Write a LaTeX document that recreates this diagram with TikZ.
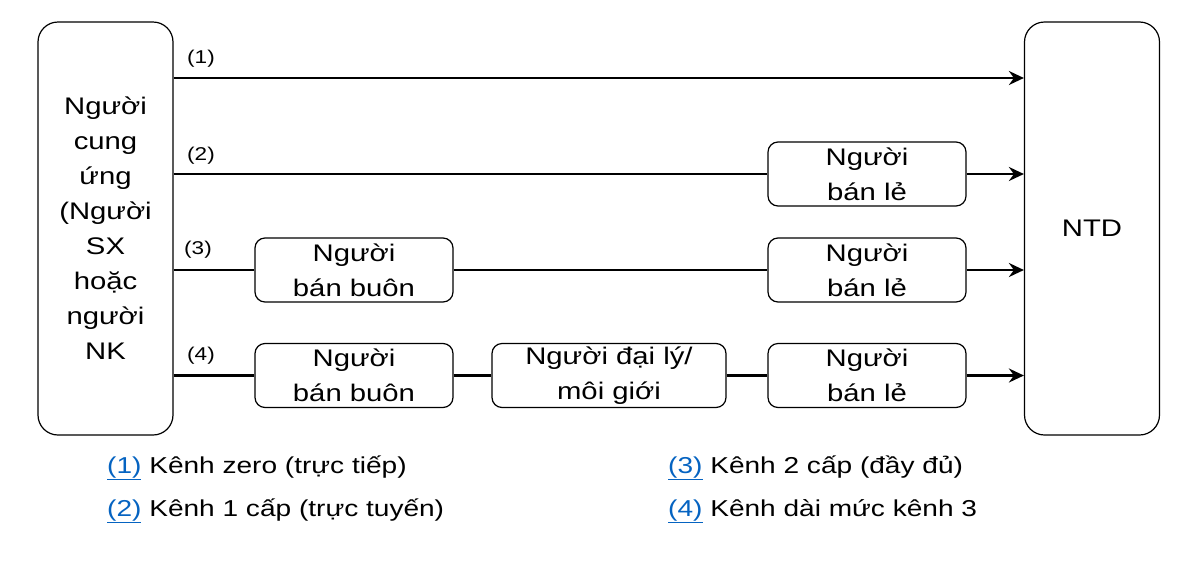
\documentclass[tikz,border=0pt]{standalone}
\usepackage{fontspec}
\setmainfont{Liberation Sans}[FakeStretch=1.22]
\usetikzlibrary{arrows.meta}
\definecolor{linkblue}{HTML}{0563C1}
\begin{document}
\begin{tikzpicture}[x=1pt,y=-1pt,
  bigbox/.style={draw,line width=1.2pt,rounded corners=20pt,minimum width=135pt,minimum height=413pt,inner sep=0pt,align=center,font=\fontsize{24}{35}\selectfont},
  midbox/.style={draw,line width=1.2pt,rounded corners=10pt,minimum width=198pt,minimum height=64pt,inner sep=0pt,align=center,font=\fontsize{24}{35}\selectfont},
  conn/.style={line width=2.6pt},
  arr/.style={line width=2.6pt,-{Stealth[length=15pt,width=14pt,inset=5pt]}},
  lab/.style={anchor=west,inner sep=0pt,font=\fontsize{18.5}{20}\selectfont},
  leg/.style={anchor=west,inner sep=0pt,font=\fontsize{23}{28}\selectfont}]
\useasboundingbox (0,0) rectangle (1196,563);
\node[bigbox] (S) at (105.5,228.5) {Người\\cung\\ứng\\(Người\\SX\\hoặc\\người\\NK};
\node[bigbox] (T) at (1092,228.5) {NTD};
\node[midbox] (r2) at (867,174) {Người\\bán lẻ};
\node[midbox] (w3) at (354,270) {Người\\bán buôn};
\node[midbox] (r3) at (867,270) {Người\\bán lẻ};
\node[midbox] (w4) at (354,375.5) {Người\\bán buôn};
\node[midbox,minimum width=234pt] (a4) at (609,375.5) {Người đại lý/\\môi giới};
\node[midbox] (r4) at (867,375.5) {Người\\bán lẻ};
\coordinate (y1) at (0,78);
\draw[arr] (S.east |- y1) -- (T.west |- y1);
\draw[conn] (S.east |- r2) -- (r2.west);
\draw[arr] (r2.east) -- (T.west |- r2);
\draw[conn] (S.east |- w3) -- (w3.west);
\draw[conn] (w3.east) -- (r3.west);
\draw[arr] (r3.east) -- (T.west |- r3);
\draw[conn] (S.east |- w4) -- (w4.west);
\draw[conn] (w4.east) -- (a4.west);
\draw[conn] (a4.east) -- (r4.west);
\draw[arr] (r4.east) -- (T.west |- r4);
\node[lab] (l1) at (187,59) {(1)};
\node[lab] (l2) at (187,156) {(2)};
\node[lab] (l3) at (184,250) {(3)};
\node[lab] (l4) at (187,356) {(4)};
\node[leg] (k1) at (107,468) {\textcolor{linkblue}{\underline{(1)}} Kênh zero (trực tiếp)};
\node[leg] (k2) at (107,511) {\textcolor{linkblue}{\underline{(2)}} Kênh 1 cấp (trực tuyến)};
\node[leg] (k3) at (668,468) {\textcolor{linkblue}{\underline{(3)}} Kênh 2 cấp (đầy đủ)};
\node[leg] (k4) at (668,511) {\textcolor{linkblue}{\underline{(4)}} Kênh dài mức kênh 3};
\end{tikzpicture}
\end{document}
